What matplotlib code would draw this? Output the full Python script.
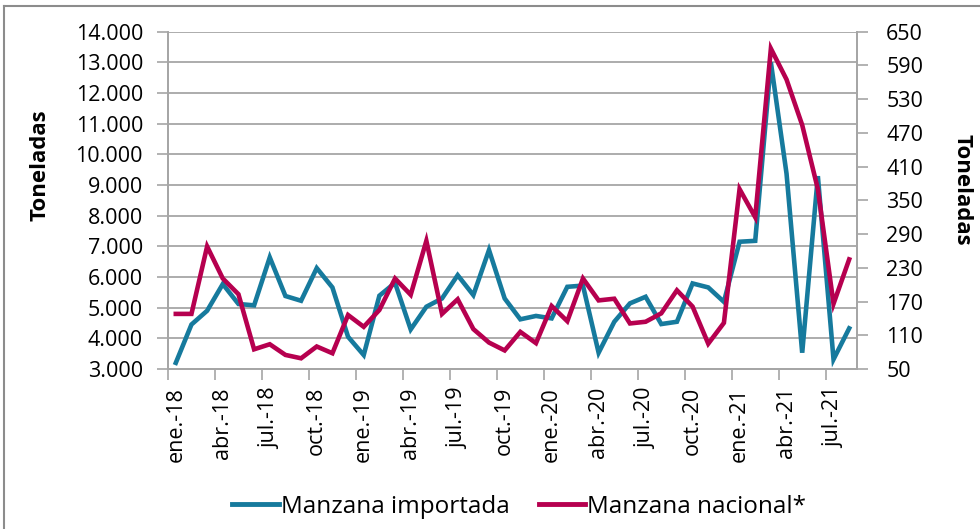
# plot.py: monthly apple volumes, imported vs national (two y axes)

import matplotlib
matplotlib.use("Agg")
import matplotlib.pyplot as plt
from matplotlib.lines import Line2D
from matplotlib.ticker import FuncFormatter, MultipleLocator, FixedLocator

plt.rcParams["font.family"] = ["Open Sans", "DejaVu Sans"]

# ── data ────────────────────────────────────────────────────────────────────
meses_abr = ["ene.", "feb.", "mar.", "abr.", "may.", "jun.",
             "jul.", "ago.", "sept.", "oct.", "nov.", "dic."]
anios = ["18", "19", "20", "21"]
meses = [f"{m}-{a}" for a in anios for m in meses_abr][:44]   # ene.-18 .. ago.-21

importada = [3200, 4450, 4900, 5770, 5120, 5075, 6640, 5380, 5225, 6290,
             5660, 4050, 3455, 5390, 5810, 4290, 5030, 5300, 6060, 5410,
             6880, 5300, 4620, 4730, 4650, 5680, 5720, 3530, 4540, 5140,
             5355, 4465, 4540, 5790, 5660, 5190, 7150, 7180, 13000, 9370,
             3530, 9290, 3315, 4325]

nacional = [148, 148, 268, 211, 183, 85, 94, 75, 69, 90,
            78, 146, 125, 155, 211, 182, 278, 148, 174, 121,
            97, 83, 116, 96, 162, 135, 211, 172, 175, 131,
            134, 149, 190, 161, 95, 132, 370, 320, 620, 565,
            484, 370, 166, 245]

ticks_nacional = list(range(50, 651, 60))

AZUL = "#167A9D"
ROJO = "#B6004F"
GRIS = "#A6A6A6"
FS = 15.5

# ── figure and axes ─────────────────────────────────────────────────────────
fig = plt.figure(figsize=(9.8, 5.29), dpi=100)
ax = fig.add_axes([0.1714, 0.3025, 0.7031, 0.6375])
ax2 = ax.twinx()

x = list(range(len(meses)))
ax.plot(x, importada, color=AZUL, lw=3.3, solid_joinstyle="miter", zorder=3)
ax2.plot(x, nacional, color=ROJO, lw=3.3, solid_joinstyle="miter", zorder=3)

# left axis: toneladas importadas
ax.set_ylim(3000, 14000)
ax.yaxis.set_major_locator(MultipleLocator(1000))
ax.yaxis.set_major_formatter(FuncFormatter(lambda v, _: f"{int(v):,}".replace(",", ".")))
ax.yaxis.grid(True, color=GRIS, lw=1.3)
ax.set_axisbelow(True)

# right axis: toneladas nacionales
ax2.set_ylim(50, 650)
ax2.yaxis.set_major_locator(FixedLocator(ticks_nacional))

# x axis: labels every 3 months, tick marks between categories
ax.set_xlim(-0.5, len(meses) - 0.5)
ax.xaxis.set_major_locator(FixedLocator([i - 0.5 for i in range(0, len(meses), 3)]))
ax.xaxis.set_minor_locator(FixedLocator(list(range(0, len(meses), 3))))
ax.xaxis.set_major_formatter(FuncFormatter(lambda v, _: ""))
ax.set_xticklabels([meses[i] for i in range(0, len(meses), 3)], minor=True,
                   rotation=90)
ax.tick_params(axis="x", which="minor", length=0, pad=13, labelsize=FS)
ax.tick_params(axis="x", which="major", length=8, width=1.2, color=GRIS)

for a in (ax, ax2):
    a.tick_params(axis="y", length=8, width=1.2, color=GRIS, labelsize=FS)
    for s in a.spines.values():
        s.set_color(GRIS)
        s.set_linewidth(1.3)
    a.spines["top"].set_visible(False)
ax.tick_params(axis="y", pad=10)
ax2.tick_params(axis="y", pad=13)

fig.text(40 / 980, 1 - 165 / 529, "Toneladas", rotation=90, fontsize=16,
         fontweight="bold", ha="center", va="center")
fig.text(962 / 980, 1 - 190 / 529, "Toneladas", rotation=-90, fontsize=16,
         fontweight="bold", ha="center", va="center")

# legend at the bottom
handles = [Line2D([], [], color=AZUL, lw=3.5), Line2D([], [], color=ROJO, lw=3.5)]
fig.legend(handles, ["Manzana importada", "Manzana nacional*"],
           loc="center", bbox_to_anchor=(0.53, 0.042), ncol=2, frameon=False,
           fontsize=17.5, handlelength=1.9, handletextpad=0.1, columnspacing=1.2)

# chart area border (only top and left edge visible in the original crop)
fig.add_artist(Line2D([0.004, 1.0], [0.989, 0.989], color="#8C8C8C", lw=1.5))
fig.add_artist(Line2D([0.004, 0.004], [0.0, 0.989], color="#8C8C8C", lw=1.5))

fig.savefig("out.png", dpi=100)
